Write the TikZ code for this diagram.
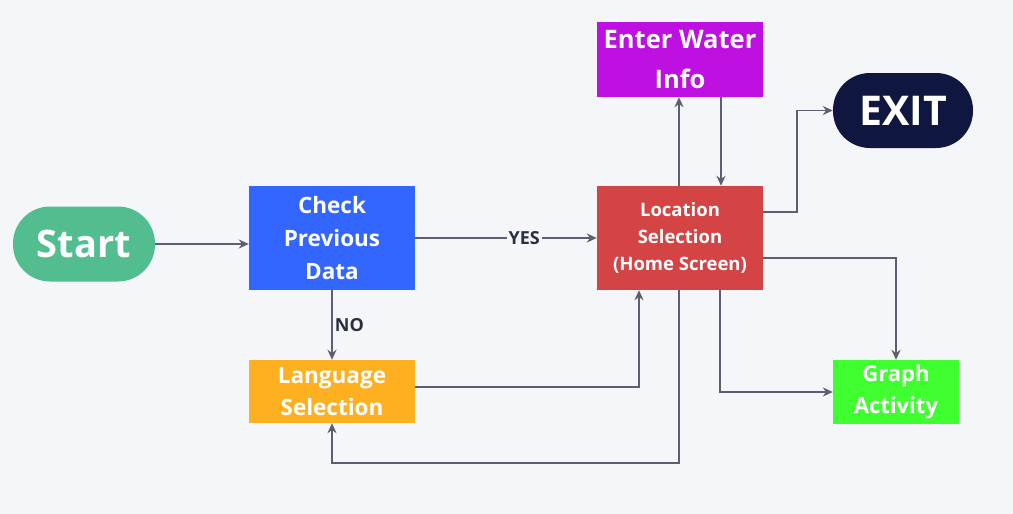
\documentclass[tikz,border=0pt]{standalone}
\usepackage{fontspec}
\setmainfont{Open Sans}
\usetikzlibrary{arrows.meta}
\definecolor{bgc}{HTML}{F4F6FA}
\definecolor{startc}{HTML}{52BE8F}
\definecolor{checkc}{HTML}{3366FF}
\definecolor{langc}{HTML}{FFB020}
\definecolor{locc}{HTML}{D44444}
\definecolor{enterc}{HTML}{BE10E0}
\definecolor{exitc}{HTML}{0F1640}
\definecolor{graphc}{HTML}{40FF30}
\definecolor{linec}{HTML}{5A6070}
\definecolor{labc}{HTML}{2A3040}
\tikzset{
  boxn/.style={rectangle, inner sep=0pt, text=white, font=\bfseries, align=center},
  term/.style={boxn, rounded corners=37pt},
  conn/.style={draw=linec, line width=1.8pt, -{Stealth[length=10pt,width=9pt]}},
  lab/.style={font=\bfseries\fontsize{18}{18}\selectfont, text=labc, inner sep=2pt}
}
\begin{document}
\begin{tikzpicture}[x=1pt,y=-1pt]
\fill[bgc] (0,0) rectangle (1013,514);
\useasboundingbox (0,0) rectangle (1013,514);
\node[term, fill=startc, minimum width=142pt, minimum height=75pt, font=\bfseries\fontsize{38}{38}\selectfont] (start) at (84,244) {Start};
\node[boxn, fill=checkc, minimum width=166pt, minimum height=104pt, font=\bfseries\fontsize{22.5}{33}\selectfont] (check) at (332,238) {Check\\Previous\\Data};
\node[boxn, fill=langc, minimum width=166pt, minimum height=63pt, font=\bfseries\fontsize{22.5}{32}\selectfont] (lang) at (332,391.5) {Language\\Selection};
\node[boxn, fill=locc, minimum width=166pt, minimum height=104pt, font=\bfseries\fontsize{18.5}{27}\selectfont] (loc) at (680,238) {Location\\Selection\\(Home Screen)};
\node[boxn, fill=enterc, minimum width=166pt, minimum height=75pt, font=\bfseries\fontsize{25.5}{40}\selectfont] (enter) at (680,59.5) {Enter Water\\Info};
\node[term, fill=exitc, minimum width=140pt, minimum height=75pt, font=\bfseries\fontsize{41}{41}\selectfont] (exit) at (903,110.5) {EXIT};
\node[boxn, fill=graphc, minimum width=126pt, minimum height=64pt, font=\bfseries\fontsize{22}{32}\selectfont] (graph) at (896,392) {Graph\\Activity};

\draw[conn] (start.east) -- (start.east -| check.west);
\draw[conn] (check.east) -- node[lab, fill=bgc, pos=0.6] {YES} (loc.west);
\draw[conn] (check.south) -- node[lab, right, pos=0.5] {NO} (lang.north);
\draw[conn] ([yshift=4.5pt]lang.east) -| ([xshift=-41pt]loc.south);
\draw[conn] ([xshift=-1pt]loc.north) -- ([xshift=-1pt]enter.south);
\draw[conn] ([xshift=41pt]enter.south) -- ([xshift=41pt]loc.north);
\draw[conn] ([yshift=26pt]loc.east) -- ++(34,0) |- (exit.west);
\draw[conn] ([yshift=-20pt]loc.east) -| (graph.north);
\draw[conn] ([xshift=40pt]loc.south) |- (graph.west);
\draw[conn] ([xshift=-1pt]loc.south) -- ++(0,173) -| (lang.south);
\end{tikzpicture}
\end{document}
